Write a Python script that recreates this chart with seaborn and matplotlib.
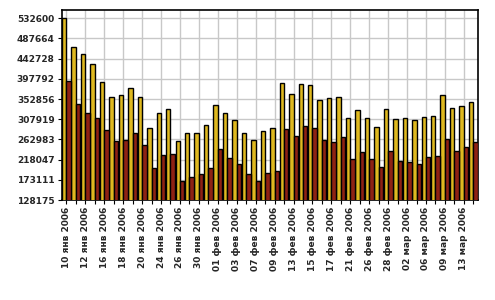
import matplotlib
matplotlib.use("Agg")
import matplotlib.pyplot as plt
import seaborn as sns
import pandas as pd

dates = ["10 янв 2006", "11 янв 2006", "12 янв 2006", "13 янв 2006", "16 янв 2006", "17 янв 2006",
         "18 янв 2006", "19 янв 2006", "20 янв 2006", "23 янв 2006", "24 янв 2006", "25 янв 2006",
         "26 янв 2006", "27 янв 2006", "30 янв 2006", "31 янв 2006",
         "01 фев 2006", "02 фев 2006", "03 фев 2006", "06 фев 2006", "07 фев 2006", "08 фев 2006",
         "09 фев 2006", "10 фев 2006", "13 фев 2006", "14 фев 2006", "15 фев 2006", "16 фев 2006",
         "17 фев 2006", "20 фев 2006", "21 фев 2006", "22 фев 2006", "26 фев 2006", "27 фев 2006",
         "28 фев 2006",
         "01 мар 2006", "02 мар 2006", "03 мар 2006", "06 мар 2006", "07 мар 2006", "09 мар 2006",
         "10 мар 2006", "13 мар 2006", "14 мар 2006"]

series_a = [532600, 468000, 452500, 430000, 390000, 357000, 361000, 377000, 357000, 288000,
            321000, 331000, 259000, 277000, 277000, 295000, 339000, 321000, 306000, 277000,
            261000, 281000, 288000, 388000, 364000, 386000, 384000, 350000, 355000, 357000,
            310000, 328000, 310000, 290000, 330000, 308000, 310000, 306000, 312000, 315000,
            361000, 332000, 337000, 346000]

series_b = [393000, 341000, 321000, 310000, 284000, 259000, 261000, 277000, 250000, 199000,
            228000, 230000, 170000, 179000, 186000, 199000, 241000, 221000, 208000, 186000,
            170000, 188000, 192000, 286000, 270000, 292000, 288000, 261000, 257000, 268000,
            219000, 235000, 219000, 201000, 237000, 215000, 212000, 208000, 224000, 226000,
            264000, 237000, 246000, 257000]

y_ticks = [128175, 173111, 218047, 262983, 307919, 352856, 397792, 442728, 487664, 532600]

df = pd.DataFrame({
    "date": dates * 2,
    "value": series_a + series_b,
    "series": ["A"] * len(dates) + ["B"] * len(dates),
})

sns.set_style("white")
plt.rcParams["font.family"] = ["DejaVu Sans"]

fig = plt.figure(figsize=(4.95, 3.0), dpi=100)
ax = fig.add_axes([0.1246, 0.3333, 0.8411, 0.6334])

sns.barplot(data=df, x="date", y="value", hue="series", order=dates,
            palette={"A": "#FFCC00", "B": "#A31200"}, width=0.94,
            edgecolor="black", linewidth=1.0, ax=ax, legend=False, zorder=3)

ax.set_ylim(128175, 551000)
ax.set_xlim(-0.5, len(dates) - 0.5)
ax.set_yticks(y_ticks)
ax.set_yticklabels([str(v) for v in y_ticks], fontsize=6.5, fontweight="bold")
ax.set_xticks(range(len(dates)))
ax.set_xticklabels([d if i % 2 == 0 else "" for i, d in enumerate(dates)],
                   rotation=90, fontsize=6.5, fontweight="bold")
ax.set_xlabel("")
ax.set_ylabel("")

ax.yaxis.grid(True, color="#C8C8C8", linewidth=1.0, zorder=0)
for i in range(0, len(dates), 2):
    ax.axvline(i, color="#C8C8C8", linewidth=1.0, zorder=0)
ax.set_axisbelow(True)

ax.tick_params(axis="both", direction="out", length=3, width=0.8, color="black", pad=2)
ax.tick_params(axis="x", bottom=True)
ax.tick_params(axis="y", left=True)
for s in ax.spines.values():
    s.set_visible(True)
    s.set_color("black")
    s.set_linewidth(1.2)

fig.savefig("out.png", dpi=100)
